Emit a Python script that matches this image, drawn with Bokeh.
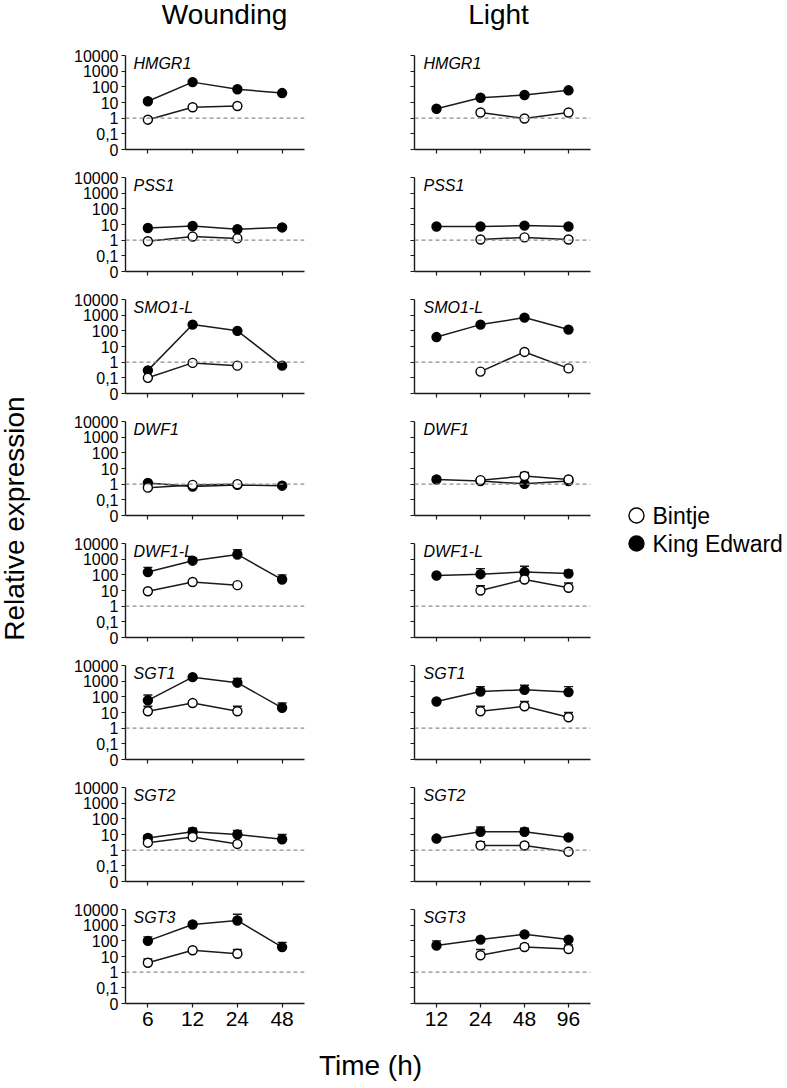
import math
from bokeh.plotting import figure
from bokeh.layouts import column, row
from bokeh.models import (FactorRange, Range1d, FixedTicker, Span, Label,
                          Whisker, TeeHead, ColumnDataSource)
from bokeh.embed import file_html
from bokeh.resources import INLINE
from bokeh.core.properties import value

# ---------------- data ----------------
GENES = ["HMGR1", "PSS1", "SMO1-L", "DWF1", "DWF1-L", "SGT1", "SGT2", "SGT3"]
WOUND_TIMES = ["6", "12", "24", "48"]
LIGHT_TIMES = ["12", "24", "48", "96"]
Y_TICKS = [0.01, 0.1, 1, 10, 100, 1000, 10000]
Y_TICK_LABELS = ["0", "0,1", "1", "10", "100", "1000", "10000"]
N = None

# King Edward (filled) / Bintje (open), wounding time course
WOUND_KE = {
    "HMGR1": [12, 200, 70, 40],
    "PSS1": [6, 8, 5, 6.5],
    "SMO1-L": [0.3, 250, 100, 0.6],
    "DWF1": [1.2, 0.7, 0.9, 0.8],
    "DWF1-L": [150, 800, 2000, 50],
    "SGT1": [60, 1800, 800, 20],
    "SGT2": [6, 15, 10, 5],
    "SGT3": [100, 1100, 2000, 40],
}
WOUND_KE_ERR = {
    "HMGR1": [N, N, N, N],
    "PSS1": [N, N, N, N],
    "SMO1-L": [N, N, N, N],
    "DWF1": [N, N, N, N],
    "DWF1-L": [300, 1200, 4000, 100],
    "SGT1": [130, N, 1500, 40],
    "SGT2": [9, 25, 18, 10],
    "SGT3": [180, N, 5000, 80],
}
WOUND_BI = {
    "HMGR1": [0.8, 5, 6, N],
    "PSS1": [0.85, 1.7, 1.3, N],
    "SMO1-L": [0.1, 0.9, 0.6, N],
    "DWF1": [0.6, 0.9, 1.0, N],
    "DWF1-L": [9, 35, 22, N],
    "SGT1": [12, 40, 12, N],
    "SGT2": [3, 7, 2.5, N],
    "SGT3": [4, 25, 15, N],
}
WOUND_BI_ERR = {
    "HMGR1": [N, N, N, N],
    "PSS1": [N, N, N, N],
    "SMO1-L": [N, N, N, N],
    "DWF1": [N, N, N, N],
    "DWF1-L": [N, N, N, N],
    "SGT1": [25, 55, 25, N],
    "SGT2": [5, 12, N, N],
    "SGT3": [7, N, 28, N],
}
# light time course
LIGHT_KE = {
    "HMGR1": [4, 20, 30, 60],
    "PSS1": [7.5, 7.5, 8.5, 7.5],
    "SMO1-L": [40, 250, 700, 120],
    "DWF1": [2.0, 1.6, 1.05, 1.6],
    "DWF1-L": [90, 110, 150, 120],
    "SGT1": [50, 220, 280, 200],
    "SGT2": [5.5, 15, 15, 6.5],
    "SGT3": [50, 120, 260, 120],
}
LIGHT_KE_ERR = {
    "HMGR1": [N, N, N, N],
    "PSS1": [N, N, N, N],
    "SMO1-L": [N, N, N, N],
    "DWF1": [2.8, N, N, N],
    "DWF1-L": [N, 250, 350, 200],
    "SGT1": [N, 450, 550, 450],
    "SGT2": [N, 30, 25, 9],
    "SGT3": [100, N, N, N],
}
LIGHT_BI = {
    "HMGR1": [N, 2.3, 0.95, 2.3],
    "PSS1": [N, 1.1, 1.5, 1.1],
    "SMO1-L": [N, 0.25, 4.5, 0.4],
    "DWF1": [N, 1.8, 3.3, 2.0],
    "DWF1-L": [N, 10, 50, 15],
    "SGT1": [N, 12, 25, 5],
    "SGT2": [N, 2, 2, 0.8],
    "SGT3": [N, 12, 40, 30],
}
LIGHT_BI_ERR = {
    "HMGR1": [N, N, N, N],
    "PSS1": [N, N, N, N],
    "SMO1-L": [N, N, N, N],
    "DWF1": [N, N, 5.5, N],
    "DWF1-L": [N, 20, 100, 30],
    "SGT1": [N, 25, 50, 10],
    "SGT2": [N, 3.5, 3, N],
    "SGT3": [N, 28, 60, 55],
}

FONT = "Liberation Sans"
INK = "#1a1a1a"


def add_series(p, times, vals, errs, fill):
    xs = [t for t, v in zip(times, vals) if v is not None]
    ys = [v for v in vals if v is not None]
    ex = [t for t, v, e in zip(times, vals, errs) if v is not None and e is not None]
    ev = [v for v, e in zip(vals, errs) if v is not None and e is not None]
    eu = [e for v, e in zip(vals, errs) if v is not None and e is not None]
    if ex:
        src = ColumnDataSource(dict(x=ex, v=ev, u=eu))
        p.add_layout(Whisker(base="x", lower="v", upper="u", source=src,
                             dimension="height", line_color=INK, line_width=1.4,
                             upper_head=TeeHead(size=9, line_color=INK, line_width=1.4),
                             lower_head=None))
    p.line(xs, ys, line_color=INK, line_width=1.5)
    p.scatter(xs, ys, marker="circle", size=9, fill_color=fill,
              line_color="black", line_width=1.4)


def panel(gene, times, ke, ke_err, bi, bi_err, left, bottom):
    fl = 85 if left else 64
    fr = 46 if left else 20
    fw = 179 if left else 176
    top = 8
    bot = 40 if bottom else 20
    p = figure(width=fl + fw + fr, height=top + 94 + bot,
               x_range=FactorRange(factors=times), y_range=Range1d(0.01, 10000),
               y_axis_type="log", output_backend="svg", toolbar_location=None,
               min_border_left=fl, min_border_right=fr,
               min_border_top=top, min_border_bottom=bot)
    p.outline_line_color = None
    p.xgrid.grid_line_color = None
    p.ygrid.grid_line_color = None
    p.yaxis.ticker = FixedTicker(ticks=Y_TICKS)
    if left:
        p.yaxis.major_label_overrides = dict(zip(Y_TICKS, Y_TICK_LABELS))
    else:
        p.yaxis.major_label_overrides = {t: "" for t in Y_TICKS}
    for ax in (p.xaxis[0], p.yaxis[0]):
        ax.axis_line_color = INK
        ax.axis_line_width = 1.4
        ax.major_tick_line_color = INK
        ax.major_tick_line_width = 1.2
        ax.major_tick_in = 0
        ax.major_tick_out = 4
        ax.minor_tick_line_color = None
        ax.major_label_text_font = FONT
        ax.major_label_text_color = "black"
    p.yaxis.major_label_text_font_size = "16px"
    p.yaxis.major_label_standoff = 3
    if bottom:
        p.xaxis.major_label_text_font_size = "21px"
    else:
        p.xaxis.major_label_text_font_size = "0px"
        p.xaxis.major_label_text_color = None
    p.xaxis.major_label_standoff = 4

    p.add_layout(Span(location=1, dimension="width", line_color="#8c8c8c",
                      line_dash="4 3", line_width=1.4))
    add_series(p, times, ke, ke_err, "black")
    add_series(p, times, bi, bi_err, "white")
    p.add_layout(Label(x=0, y=10000, x_offset=8 if left else 9, y_offset=1,
                       text=gene, text_font=FONT, text_font_style="italic",
                       text_font_size="16px", text_baseline="top", text_color="black"))
    return p


def blank(w, h):
    p = figure(width=w, height=h, x_range=Range1d(0, w), y_range=Range1d(h, 0),
               output_backend="svg", toolbar_location=None, min_border=0,
               x_axis_location=None, y_axis_location=None)
    p.min_border_left = 0
    p.min_border_right = 0
    p.min_border_top = 0
    p.min_border_bottom = 0
    p.grid.visible = False
    p.outline_line_color = None
    return p


left_panels = []
right_panels = []
for i, g in enumerate(GENES):
    last = i == len(GENES) - 1
    left_panels.append(panel(g, WOUND_TIMES, WOUND_KE[g], WOUND_KE_ERR[g],
                             WOUND_BI[g], WOUND_BI_ERR[g], True, last))
    right_panels.append(panel(g, LIGHT_TIMES, LIGHT_KE[g], LIGHT_KE_ERR[g],
                              LIGHT_BI[g], LIGHT_BI_ERR[g], False, last))

PANEL_H = 7 * 122 + 142
TOTAL_W = 40 + 310 + 260 + 175

# header with column titles
header = blank(TOTAL_W, 47)
header.text(x=[224, 498], y=[14, 14], text=["Wounding", "Light"],
            text_font=value(FONT), text_font_size=value("28px"),
            text_align="center", text_baseline="middle", text_color="black")

# y axis title
ylab = blank(40, PANEL_H)
ylab.text(x=[14], y=[471], text=["Relative expression"], angle=math.pi / 2,
          text_font=value(FONT), text_font_size=value("28px"),
          text_align="center", text_baseline="middle", text_color="black")

# legend
legend = blank(175, PANEL_H)
legend.scatter(x=[26, 26], y=[468, 496], marker="circle", size=15,
               fill_color=["white", "black"], line_color="black", line_width=1.4)
legend.text(x=[42, 42], y=[468, 496], text=["Bintje", "King Edward"],
            text_font=value(FONT), text_font_size=value("23px"),
            text_align="left", text_baseline="middle", text_color="black")

# x axis title
footer = blank(TOTAL_W, 42)
footer.text(x=[370], y=[22], text=["Time (h)"],
            text_font=value(FONT), text_font_size=value("28px"),
            text_align="center", text_baseline="middle", text_color="black")

layout = column(header,
                row(ylab, column(*left_panels), column(*right_panels), legend),
                footer)

open("out.html", "w").write(file_html(layout, INLINE))
